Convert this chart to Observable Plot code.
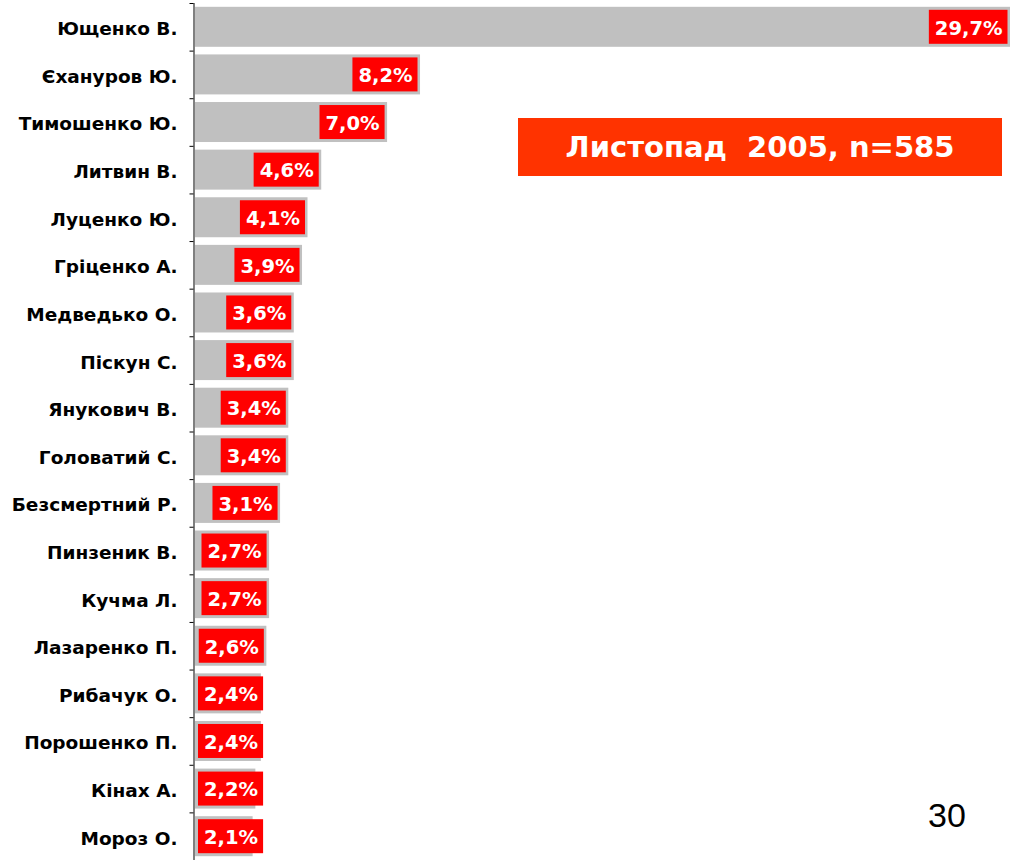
<!DOCTYPE html>
<html>
<head>
<meta charset="utf-8">
<script src="https://cdn.jsdelivr.net/npm/d3@7"></script>
<script src="https://cdn.jsdelivr.net/npm/@observablehq/plot@0.6"></script>
<style>
  html, body { margin: 0; padding: 0; background: #fff; }
  #wrap { position: relative; width: 1016px; height: 860px; overflow: hidden; }
  #title {
    position: absolute; left: 518px; top: 118px; width: 484px; height: 58px;
    background: #ff3300; color: #fff; font: bold 29px "DejaVu Sans", sans-serif;
    display: flex; align-items: center; justify-content: center; white-space: pre;
  }
  #page {
    position: absolute; left: 928px; top: 796px; font: 34px "Liberation Sans", Arial, sans-serif; color: #000;
  }
</style>
</head>
<body>
<div id="wrap">
  <div id="chart"></div>
  <div id="title">Листопад  2005, n=585</div>
  <div id="page">30</div>
</div>
<script>
const names = ["Ющенко В.", "Єхануров Ю.", "Тимошенко Ю.", "Литвин В.", "Луценко Ю.", "Гріценко А.",
  "Медведько О.", "Піскун С.", "Янукович В.", "Головатий С.", "Безсмертний Р.", "Пинзеник В.",
  "Кучма Л.", "Лазаренко П.", "Рибачук О.", "Порошенко П.", "Кінах А.", "Мороз О."];
const values = [29.7, 8.2, 7.0, 4.6, 4.1, 3.9, 3.6, 3.6, 3.4, 3.4, 3.1, 2.7, 2.7, 2.6, 2.4, 2.4, 2.2, 2.1];

const data = names.map((n, i) => ({name: n, value: values[i], label: values[i].toFixed(1).replace(".", ",") + "%"}));

const H = 860, mTop = 3;
const band = (H - mTop) / names.length;

const plot = Plot.plot({
  width: 1016,
  height: H,
  marginLeft: 195,
  marginRight: 6,
  marginTop: mTop,
  marginBottom: 0,
  style: {fontFamily: "DejaVu Sans, sans-serif", background: "#fff"},
  x: {domain: [0, 29.7], axis: null},
  y: {domain: names, paddingInner: 0.16, paddingOuter: 0.08, round: false, axis: null, label: null},
  marks: [
    Plot.barX(data, {x: "value", y: "name", fill: "#c0c0c0"}),
    Plot.ruleX([0], {stroke: "#000", strokeWidth: 1, dx: -1.5}),
    Plot.axisY({tickSize: 4, tickFormat: () => "", dy: -band / 2, dx: -1.5, stroke: "#000", label: null}),
    Plot.axisY({tickSize: 0, tickPadding: 18, dy: 2, fontSize: 18.5, fontWeight: "bold", fill: "#000", label: null}),
    Plot.text(data, {x: "value", y: "name", text: "label", textAnchor: "end", dx: -8, dy: 1,
      fill: "#fff", fontSize: 19.5, fontWeight: "bold", className: "vlabel"})
  ]
});
document.getElementById("chart").appendChild(plot);

// red boxes behind value labels, sized to the rendered text
const xs = plot.scale("x"), ys = plot.scale("y");
const x0 = xs.apply(0);
const svgRect = plot.getBoundingClientRect();
const labelGroup = plot.querySelector("g.vlabel");
const boxGroup = document.createElementNS("http://www.w3.org/2000/svg", "g");
labelGroup.parentNode.insertBefore(boxGroup, labelGroup);
labelGroup.querySelectorAll("text").forEach((t, i) => {
  const bb = t.getBoundingClientRect();
  const d = data[i];
  let left = bb.left - svgRect.left - 6;
  let right = bb.right - svgRect.left + 5;
  const minLeft = x0 + 3;
  if (left < minLeft) {
    const shift = minLeft - left;
    left += shift; right += shift;
    const tr = t.getAttribute("transform") || "";
    t.setAttribute("transform", tr + ` translate(${shift},0)`);
  }
  const cy = ys.apply(d.name) + ys.bandwidth / 2;
  const r = document.createElementNS("http://www.w3.org/2000/svg", "rect");
  r.setAttribute("x", left);
  r.setAttribute("y", cy - 17);
  r.setAttribute("width", right - left);
  r.setAttribute("height", 34);
  r.setAttribute("fill", "#ff0000");
  boxGroup.appendChild(r);
});
</script>
</body>
</html>
